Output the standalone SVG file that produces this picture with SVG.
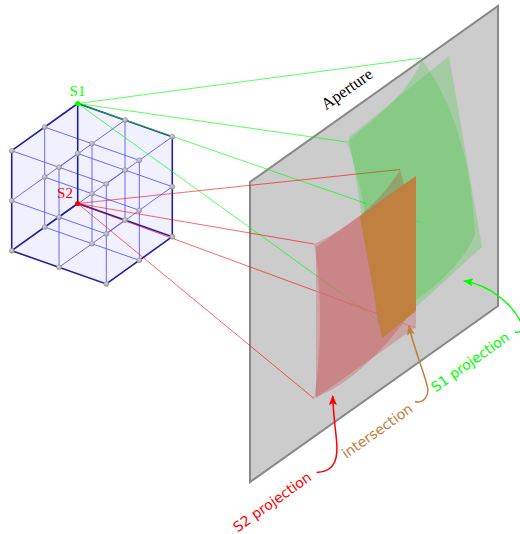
<svg xmlns="http://www.w3.org/2000/svg" width="520" height="534" viewBox="0 0 520 534">
<style>
.b{fill:none;stroke:#5a5aff;stroke-width:.9}
.t{fill:none;stroke:#20209a;stroke-width:1.6}
.n{fill:url(#ball);stroke:#8a8a8a;stroke-width:.5}
.rg{fill:none;stroke:#00ff00;stroke-width:.65}
.rr{fill:none;stroke:#ff0000;stroke-width:.6}
.in{stroke-opacity:.35}
.sg{fill:#00c800;fill-opacity:.19;stroke:none}
.sr{fill:#cc0000;fill-opacity:.19;stroke:none}
.lab{font-family:"DejaVu Sans",sans-serif;font-size:14px;text-anchor:middle}
.ser{font-family:"Liberation Serif",serif;text-anchor:middle}
</style>
<defs>
<radialGradient id="ball" cx=".4" cy=".35" r=".7"><stop offset="0" stop-color="#d8d4d4"/><stop offset="1" stop-color="#9c9898"/></radialGradient>
<marker id="mr" viewBox="0 0 10 8" refX="9" refY="4" markerWidth="10" markerHeight="8" markerUnits="userSpaceOnUse" orient="auto"><path d="M0 0L10 4L0 8L2 4Z" fill="#ff0000"/></marker>
<marker id="mg" viewBox="0 0 10 8" refX="9" refY="4" markerWidth="10" markerHeight="8" markerUnits="userSpaceOnUse" orient="auto"><path d="M0 0L10 4L0 8L2 4Z" fill="#00ff00"/></marker>
<marker id="mo" viewBox="0 0 10 8" refX="9" refY="4" markerWidth="10" markerHeight="8" markerUnits="userSpaceOnUse" orient="auto"><path d="M0 0L10 4L0 8L2 4Z" fill="#bf8040"/></marker>
</defs>

<g id="cube">
<path d="M77.7 103.500L172.300 136.700V236.700L106.300 283.900L11.700 250.700V150.700Z" fill="#f0f0ff"/>
<path class="b" d="M77.7 153.5L11.7 200.7M125 120.1L59 167.3M125 170.1L59 217.3M125 220.1L59 267.3M172.3 186.7L106.3 233.9M172.3 136.7L106.3 183.9"/>
<path class="b" d="M44.7 127.1L139.3 160.3M44.7 177.1L139.3 210.3M44.7 227.1L139.3 260.3M11.7 150.7L106.3 183.9M11.7 200.7L106.3 233.9M77.7 153.5L172.3 186.7"/>
<path class="b" d="M125 120.1V220.1M92 143.7V243.7M44.7 127.1V227.1M139.3 160.3V260.3M59 167.3V267.3M106.3 183.9V283.9"/>
<path class="t" d="M11.7 150.7L77.7 103.5L172.3 136.7V236.7L77.7 203.5L11.7 250.7V150.7M77.7 103.5V203.5M11.7 250.7L106.3 283.9L172.3 236.7"/>
</g>

<g id="aperture"><path d="M250 182L498 6V306L250 482Z" fill="#cccccc" stroke="#888888" stroke-width="2"/></g>

<g id="connectors">
<path class="rg" d="M77.7 103.5L422 58M77.7 103.5L347 142M77.7 103.5L366 203.5M77.7 103.5L318 276.7"/>
<path class="rg in" d="M366 203.5L422 223M318 276.7L378 320"/>
<path class="rr" d="M77.7 203.5L400 169.5M77.7 203.5L314 244M77.7 203.5L316 291.2M77.7 203.5L314 398.5"/>
<path class="rr in" d="M316 291.2L416 328"/>
</g>

<g id="s1-projection">
<path class="sg" d="M349 137L449 56L482 247L382 338Z"/>
<path class="sg" d="M347 142C372 120 405 98 422 60C455 105 472 165 475 235C462 265 430 295 378 325C370 270 372 215 347 142Z"/>
</g>
<g id="s2-projection">
<path class="sr" d="M316 247L416 176V327L316 398Z"/>
<path class="sr" d="M314 244C340 232 375 210 400 170C412 210 416 260 416 305C385 350 350 385 314 398C322 350 322 290 314 244Z"/>
</g>
<g id="intersection"><path d="M416 176V311L382 338L360 217Z" fill="#bf8040"/></g>

<g id="grid-nodes">
<g id="n001"><circle class="n" cx="125" cy="120.1" r="2.5"/></g>
<g id="n002"><circle class="n" cx="172.3" cy="136.7" r="2.5"/></g>
<g id="n010"><circle class="n" cx="44.7" cy="127.1" r="2.5"/></g>
<g id="n011"><circle class="n" cx="92" cy="143.7" r="2.5"/></g>
<g id="n012"><circle class="n" cx="139.3" cy="160.3" r="2.5"/></g>
<g id="n020"><circle class="n" cx="11.7" cy="150.7" r="2.5"/></g>
<g id="n021"><circle class="n" cx="59" cy="167.3" r="2.5"/></g>
<g id="n022"><circle class="n" cx="106.3" cy="183.9" r="2.5"/></g>
<g id="n100"><circle class="n" cx="77.7" cy="153.5" r="2.5"/></g>
<g id="n101"><circle class="n" cx="125" cy="170.1" r="2.5"/></g>
<g id="n102"><circle class="n" cx="172.3" cy="186.7" r="2.5"/></g>
<g id="n110"><circle class="n" cx="44.7" cy="177.1" r="2.5"/></g>
<g id="n111"><circle class="n" cx="92" cy="193.7" r="2.5"/></g>
<g id="n112"><circle class="n" cx="139.3" cy="210.3" r="2.5"/></g>
<g id="n120"><circle class="n" cx="11.7" cy="200.7" r="2.5"/></g>
<g id="n121"><circle class="n" cx="59" cy="217.3" r="2.5"/></g>
<g id="n122"><circle class="n" cx="106.3" cy="233.9" r="2.5"/></g>
<g id="n201"><circle class="n" cx="125" cy="220.1" r="2.5"/></g>
<g id="n202"><circle class="n" cx="172.3" cy="236.7" r="2.5"/></g>
<g id="n210"><circle class="n" cx="44.7" cy="227.1" r="2.5"/></g>
<g id="n211"><circle class="n" cx="92" cy="243.7" r="2.5"/></g>
<g id="n212"><circle class="n" cx="139.3" cy="260.3" r="2.5"/></g>
<g id="n220"><circle class="n" cx="11.7" cy="250.7" r="2.5"/></g>
<g id="n221"><circle class="n" cx="59" cy="267.3" r="2.5"/></g>
<g id="n222"><circle class="n" cx="106.3" cy="283.9" r="2.5"/></g>
</g>

<g id="S1"><circle cx="77.7" cy="103.5" r="2.6" fill="#00ff00"/><text class="ser" x="77.5" y="96" font-size="15" fill="#00ff00">S1</text></g>
<g id="S2"><circle cx="77.7" cy="203.5" r="2.6" fill="#ff0000"/><text class="ser" x="65" y="198" font-size="15" fill="#ff0000">S2</text></g>

<g id="labels">
<text class="ser" font-size="16.5" fill="#000" transform="translate(350 93.500) rotate(-35.4)">Aperture</text>
<text class="lab" fill="#ff0000" transform="translate(275 506) rotate(-35.4)">S2 projection</text>
<text class="lab" fill="#bf8040" transform="translate(380 435) rotate(-35.4)">intersection</text>
<text class="lab" fill="#00ff00" transform="translate(473 366) rotate(-35.4)">S1 projection</text>
</g>

<g id="arrows">
<path d="M316.5 472.5C337 472 338 455 336.5 440C335 425 333 410 332.7 396" fill="none" stroke="#ff0000" stroke-width="1.5" marker-end="url(#mr)"/>
<path d="M415 401.5C424 404 430 395 427 385C423 370 413 345 409 326" fill="none" stroke="#bf8040" stroke-width="1.5" marker-end="url(#mo)"/>
<path d="M515 332C520 333 524 331 522 325C514 305 490 285 464 281" fill="none" stroke="#00ff00" stroke-width="1.5" marker-end="url(#mg)"/>
</g>
</svg>
